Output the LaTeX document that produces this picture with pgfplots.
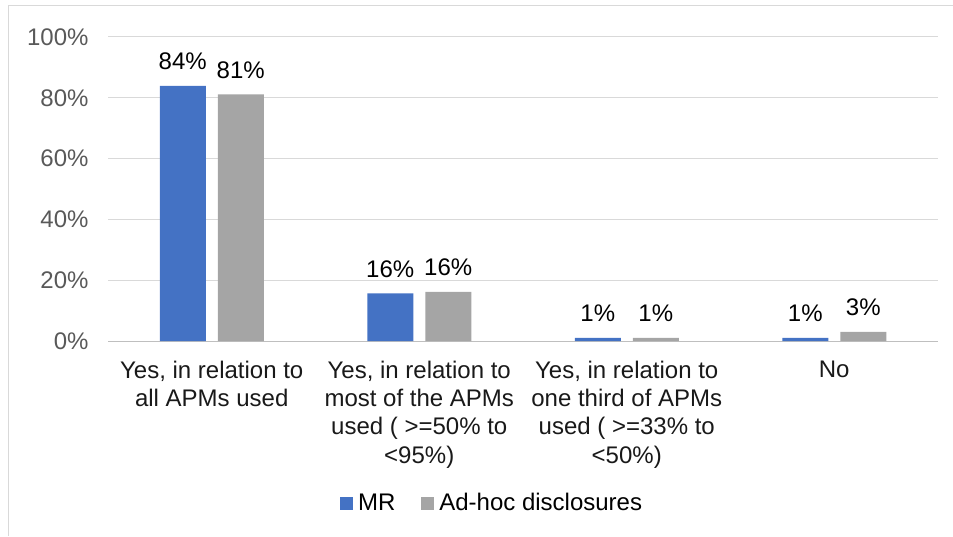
\documentclass[border=0pt]{standalone}
\usepackage{fontspec}
\setmainfont{Liberation Sans}
\usepackage{pgfplots}
\pgfplotsset{compat=1.18}
\definecolor{MRBlue}{HTML}{4472C4}
\definecolor{AdGray}{HTML}{A5A5A5}
\definecolor{GridC}{HTML}{D9D9D9}
\definecolor{BaseC}{HTML}{BFBFBF}
\definecolor{TickC}{HTML}{595959}
\definecolor{FrameC}{HTML}{D9D9D9}

\begin{document}
\begin{tikzpicture}[x=1pt,y=1pt]
  \useasboundingbox (0,0) rectangle (953,536);
  \draw[FrameC,line width=1pt] (8,0) -- (8,530) -- (953,530);
  \begin{axis}[
    at={(108pt,195pt)},anchor=south west,
    scale only axis,width=830pt,height=304pt,
    font=\fontsize{24}{28.3}\selectfont,
    xmin=-0.5,xmax=3.5,ymin=0,ymax=100,
    ybar=12pt,bar width=46pt,
    axis line style={draw=none},tick style={draw=none},
    ytick={0,20,40,60,80,100},
    yticklabel={\pgfmathprintnumber{\tick}\%},
    /pgf/number format/assume math mode=true,
    yticklabel style={color=TickC,xshift=-16pt},
    ymajorgrids=true,grid style={GridC,line width=1pt},
    extra y ticks={0},extra y tick labels={},
    extra y tick style={grid style={BaseC,line width=1pt}},
    xtick={0,1,2,3},
    xticklabels={{Yes, in relation to\\all APMs used},
      {Yes, in relation to\\most of the APMs\\used ( >=50\% to\\<95\%)},
      {Yes, in relation to\\one third of APMs\\used ( >=33\% to\\<50\%)},
      {No}},
    xticklabel style={align=center,color=black!90,anchor=north,yshift=-12pt},
    nodes near coords={\pgfmathprintnumber[fixed,precision=0]{\pgfplotspointmeta}\%},
    every node near coord/.append style={color=black,anchor=base,yshift=16pt,inner sep=0pt},
    legend columns=2,
    legend style={at={(0.4627,-0.533)},anchor=center,draw=none,fill=none,
      /tikz/every even column/.append style={column sep=24pt}},
    legend image code/.code={\fill[#1,draw=none] (0pt,-6.5pt) rectangle (13pt,6.5pt);
      \path (16pt,0pt);},
  ]
    \addplot[fill=MRBlue,draw=none] coordinates {(0,83.9) (1,15.7) (2,1) (3,1)};
    \addplot[fill=AdGray,draw=none] coordinates {(0,81.1) (1,16.2) (2,1) (3,3)};
    \legend{MR,Ad-hoc disclosures}
  \end{axis}
\end{tikzpicture}
\end{document}
